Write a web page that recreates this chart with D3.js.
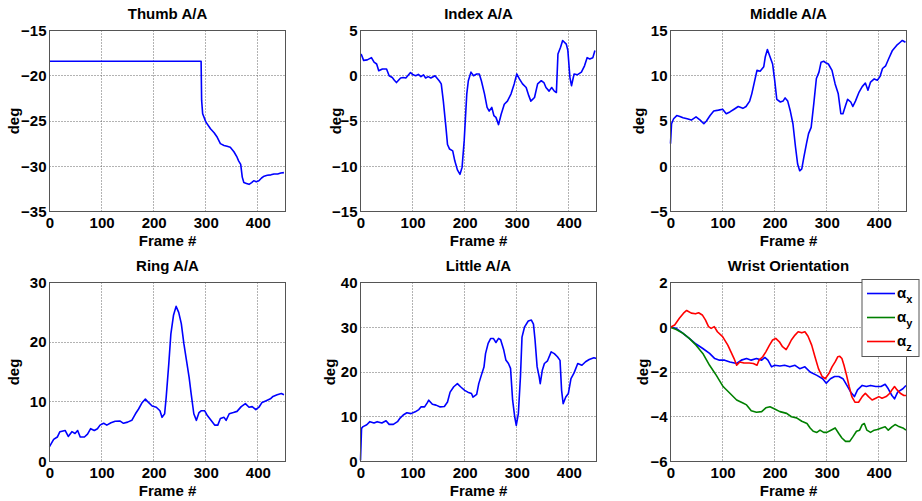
<!DOCTYPE html>
<html lang="en">
<head>
<meta charset="UTF-8">
<script src="https://cdn.jsdelivr.net/npm/d3@7"></script>
<title>Hand A/A</title>
<style>
  body { margin: 0; background: #fff; }
  text { font-family: "Liberation Sans", Arial, Helvetica, sans-serif; font-weight: bold; fill: #000; }
</style>
</head>
<body>
<svg></svg>
<script>
const width = 922;
const height = 501;

// ---- data ----
const titles = ['Thumb A/A', 'Index A/A', 'Middle A/A', 'Ring A/A', 'Little A/A', 'Wrist Orientation'];
const xTicks = [0, 100, 200, 300, 400];
const xMax = 453;
const yDomains = [[-35, -15], [-15, 5], [-5, 15], [0, 30], [0, 40], [-6, 2]];
const yTicks = [
  [-35, -30, -25, -20, -15],
  [-15, -10, -5, 0, 5],
  [-5, 0, 5, 10, 15],
  [0, 10, 20, 30],
  [0, 10, 20, 30, 40],
  [-6, -4, -2, 0, 2]
];

// [frame, deg]
const thumbAA = [[0,-18.4],[291,-18.4],[292,-22.7],[294,-24.2],[300,-25.1],[309,-25.85],[316,-26.3],[322,-26.8],[328,-27.5],[335,-27.7],[341,-27.8],[347,-27.9],[354,-28.4],[360,-29.0],[363,-29.4],[367,-29.8],[370,-31.2],[373,-31.8],[378,-31.9],[383,-32.0],[388,-31.8],[392,-31.6],[397,-31.7],[402,-31.6],[407,-31.3],[412,-31.1],[418,-31.0],[425,-30.95],[431,-30.85],[438,-30.85],[444,-30.75],[450,-30.7]];

const indexAA = [[0,2.4],[2,2.3],[6,1.7],[13,1.75],[21,2.0],[26,1.5],[31,1.3],[35,0.55],[42,0.75],[50,0.75],[55,0],[61,-0.2],[65,-0.5],[69,-0.75],[77,-0.25],[82,-0.2],[87,-0.25],[96,0.35],[101,0.1],[106,0],[111,0.15],[116,-0.1],[121,0.1],[125,-0.25],[130,-0.1],[135,-0.25],[143,0],[151,-0.55],[155,-0.9],[159,-2.8],[164,-5.7],[167,-7.6],[171,-8.1],[177,-8.3],[181,-9.4],[186,-10.4],[191,-10.9],[195,-10.1],[199,-7.2],[204,-2.0],[207,-0.55],[212,0.4],[217,0],[223,0.2],[228,0.2],[232,-0.55],[238,-2.0],[243,-3.5],[247,-3.9],[252,-3.5],[256,-4.4],[260,-4.6],[265,-5.4],[270,-4.25],[276,-3.15],[282,-2.8],[289,-2.0],[295,-0.9],[300,0.2],[305,-0.35],[311,-0.9],[318,-1.3],[323,-2.2],[327,-2.8],[334,-2.4],[340,-0.9],[347,-0.55],[352,-0.75],[356,-1.3],[362,-1.7],[367,-1.3],[372,-1.7],[376,-1.85],[379,2.4],[384,3.15],[388,3.9],[395,3.5],[398,2.8],[402,-0.2],[405,-1.1],[410,0.2],[416,0.1],[424,0.4],[430,1.1],[435,2.0],[440,1.85],[446,2.0],[450,2.8]];

const middleAA = [[0,2.5],[2,4.7],[6,5.25],[12,5.6],[18,5.5],[24,5.35],[32,5.25],[40,5.1],[49,5.45],[57,5.1],[64,4.7],[69,5.0],[76,5.6],[83,6.1],[92,6.2],[100,6.3],[107,5.8],[114,6.0],[122,6.3],[130,6.6],[139,6.4],[145,6.6],[152,7.2],[156,8.0],[161,9.3],[166,10.6],[172,10.5],[179,11.0],[182,12.1],[186,12.9],[191,12.1],[196,11.3],[200,9.5],[204,7.4],[211,7.1],[216,7.2],[220,7.55],[225,7.2],[230,6.1],[235,4.7],[240,2.1],[244,0.25],[248,-0.5],[252,-0.3],[256,1.0],[261,2.5],[265,3.6],[270,4.3],[275,6.9],[280,9.7],[285,10.4],[289,11.5],[294,11.6],[299,11.4],[303,11.3],[310,10.6],[316,9.1],[322,8.0],[327,5.8],[331,5.8],[336,6.7],[340,7.4],[346,7.1],[350,6.6],[355,7.2],[362,8.2],[368,8.8],[374,9.2],[379,8.4],[384,9.3],[391,9.65],[397,9.5],[402,9.9],[407,10.8],[413,11.1],[419,11.9],[426,12.8],[434,13.35],[441,13.7],[445,13.9],[451,13.7]];

const ringAA = [[0,2.5],[8,3.7],[15,4.1],[20,5.0],[30,5.2],[36,4.2],[43,5.0],[49,4.7],[54,5.2],[59,4.1],[67,4.1],[73,4.6],[79,5.5],[86,5.2],[92,5.5],[97,6.1],[104,6.4],[110,6.1],[118,6.5],[126,6.75],[135,6.8],[142,6.4],[150,6.6],[158,6.9],[165,8.0],[171,8.8],[178,9.9],[184,10.45],[190,9.9],[197,9.3],[205,9.1],[212,8.5],[216,7.4],[221,8.0],[224,10.8],[229,16.4],[233,21.4],[238,24.5],[243,26.0],[248,25.0],[253,23.1],[258,19.7],[263,16.9],[268,14.1],[272,11.3],[277,8.0],[282,6.9],[287,8.2],[291,8.5],[298,8.5],[303,7.7],[310,6.9],[317,6.1],[323,6.1],[328,7.2],[335,7.4],[339,6.9],[345,8.0],[353,8.2],[360,8.4],[368,9.2],[376,9.7],[383,9.1],[389,9.2],[396,8.7],[402,9.1],[408,9.9],[416,10.2],[424,10.5],[429,10.9],[437,11.2],[445,11.4],[450,11.2]];

const littleAA = [[0,0.3],[2,7.4],[5,7.8],[12,8.2],[18,8.9],[26,8.6],[32,8.9],[41,8.6],[49,9.1],[55,8.3],[63,8.3],[71,8.9],[76,9.7],[82,10.4],[89,10.9],[97,10.7],[105,11.1],[112,11.6],[116,12.2],[123,12.2],[128,13.1],[131,13.7],[138,12.8],[145,12.6],[153,12.2],[161,12.3],[167,13.3],[172,15.5],[179,16.7],[186,17.4],[192,16.7],[200,15.9],[206,15.5],[213,15.2],[216,14.4],[223,15.0],[227,17.4],[232,19.3],[237,21.1],[240,24.1],[245,26.4],[250,27.5],[255,27.5],[260,26.6],[265,27.5],[269,27.2],[275,24.9],[279,22.7],[284,21.9],[288,20.8],[292,13.7],[296,10.0],[299,8.1],[303,10.7],[307,18.9],[310,27.8],[315,30.1],[322,31.4],[328,31.6],[332,30.7],[335,27.2],[339,21.2],[343,18.9],[345,17.4],[349,20.4],[353,21.9],[359,22.5],[366,24.5],[372,24.1],[378,23.4],[383,22.6],[386,15.9],[389,12.9],[394,14.4],[399,15.2],[404,18.5],[410,19.8],[417,21.9],[425,21.5],[432,22.3],[439,22.8],[448,23.2],[453,23.0]];

const wristX = [[0,0],[11,-0.05],[24,-0.27],[36,-0.5],[49,-0.75],[62,-0.95],[75,-1.17],[85,-1.4],[94,-1.47],[104,-1.47],[114,-1.55],[127,-1.62],[136,-1.47],[146,-1.4],[155,-1.47],[165,-1.4],[175,-1.47],[181,-1.35],[187,-1.47],[194,-1.77],[200,-1.7],[210,-1.73],[219,-1.7],[229,-1.77],[239,-1.7],[248,-1.85],[258,-1.77],[268,-2.0],[281,-2.15],[292,-2.3],[299,-2.5],[307,-2.3],[315,-2.2],[323,-2.2],[331,-2.3],[340,-2.65],[346,-2.9],[353,-3.1],[359,-2.8],[368,-2.6],[376,-2.65],[384,-2.6],[394,-2.65],[404,-2.65],[412,-2.55],[418,-2.75],[425,-3.05],[430,-3.2],[436,-2.9],[446,-2.75],[452,-2.6]];

const wristY = [[0,0],[11,-0.1],[24,-0.27],[36,-0.5],[49,-0.8],[62,-1.17],[75,-1.7],[88,-2.15],[101,-2.65],[114,-2.95],[127,-3.25],[140,-3.4],[146,-3.47],[155,-3.73],[165,-3.8],[175,-3.77],[183,-3.6],[191,-3.55],[200,-3.65],[210,-3.77],[223,-3.85],[232,-4.0],[242,-4.05],[252,-4.2],[262,-4.3],[268,-4.5],[274,-4.65],[281,-4.7],[287,-4.6],[294,-4.7],[300,-4.7],[308,-4.6],[316,-4.5],[323,-4.75],[329,-4.95],[336,-5.1],[344,-5.1],[350,-4.9],[357,-4.65],[363,-4.6],[368,-4.35],[372,-4.3],[377,-4.6],[384,-4.7],[391,-4.6],[397,-4.57],[405,-4.5],[412,-4.45],[418,-4.6],[425,-4.45],[431,-4.35],[437,-4.42],[446,-4.5],[452,-4.6]];

const wristZ = [[0,0],[8,0.1],[17,0.4],[25,0.63],[31,0.75],[40,0.63],[48,0.6],[54,0.65],[61,0.55],[67,0.33],[73,0.03],[78,-0.05],[84,0.03],[90,-0.2],[100,-0.42],[110,-0.8],[116,-1.1],[122,-1.4],[127,-1.7],[133,-1.55],[141,-1.6],[151,-1.6],[159,-1.62],[166,-1.7],[170,-1.47],[177,-1.32],[183,-1.1],[190,-0.8],[196,-0.57],[202,-0.5],[209,-0.65],[215,-0.87],[222,-1.0],[227,-0.8],[232,-0.57],[239,-0.35],[245,-0.2],[252,-0.25],[258,-0.2],[264,-0.4],[271,-0.8],[277,-1.3],[284,-1.85],[291,-2.2],[297,-2.3],[304,-2.07],[310,-1.77],[316,-1.55],[321,-1.32],[325,-1.3],[329,-1.4],[333,-1.7],[338,-2.15],[343,-2.65],[348,-3.1],[354,-3.35],[361,-3.35],[368,-3.1],[374,-2.95],[380,-3.1],[387,-3.25],[394,-3.17],[400,-3.1],[406,-3.17],[414,-3.1],[421,-2.95],[425,-2.8],[430,-2.65],[435,-2.8],[441,-2.95],[448,-3.05],[452,-3.05]];

const panelSeries = [[thumbAA], [indexAA], [middleAA], [ringAA], [littleAA], [wristX, wristY, wristZ]];
const lineColors = ['#0000ff', '#008000', '#ff0000'];
const legendSubs = ['x', 'y', 'z'];

// ---- layout ----
const colLeft = [49.5, 360.5, 670.5];
const rowTop = [30.5, 282.5];
const rowHeight = [181, 179];
const plotWidth = 236;
const yLabelOffset = [36, 25, 32, 36, 31, 28];

const svg = d3.select('svg').attr('width', width).attr('height', height);

titles.forEach((title, i) => {
  const col = i % 3;
  const row = Math.floor(i / 3);
  const w = plotWidth;
  const h = rowHeight[row];
  const g = svg.append('g').attr('transform', `translate(${colLeft[col]}, ${rowTop[row]})`);

  const xScale = d3.scaleLinear().domain([0, xMax]).range([0, w]);
  const yScale = d3.scaleLinear().domain(yDomains[i]).range([h, 0]);

  // dotted grid
  g.append('g').selectAll('line').data(xTicks.filter(t => t > 0)).enter().append('line')
    .attr('x1', d => Math.round(xScale(d))).attr('x2', d => Math.round(xScale(d)))
    .attr('y1', 0).attr('y2', h)
    .attr('stroke', '#666').attr('stroke-width', 1).attr('stroke-dasharray', '1,2');
  g.append('g').selectAll('line').data(yTicks[i].slice(1, -1)).enter().append('line')
    .attr('x1', 0).attr('x2', w)
    .attr('y1', d => Math.round(yScale(d))).attr('y2', d => Math.round(yScale(d)))
    .attr('stroke', '#666').attr('stroke-width', 1).attr('stroke-dasharray', '1,2');

  // axes, labels only
  const xAxis = d3.axisBottom(xScale).tickValues(xTicks).tickSize(0).tickPadding(6);
  const yAxis = d3.axisLeft(yScale).tickValues(yTicks[i]).tickSize(0).tickPadding(3);
  const xg = g.append('g').attr('transform', `translate(0, ${h})`).call(xAxis);
  const yg = g.append('g').call(yAxis);
  [xg, yg].forEach(a => {
    a.select('.domain').remove();
    a.selectAll('line').remove();
    a.selectAll('text').style('font-size', '15px').attr('font-family', null).attr('fill', '#000');
  });

  // lines
  const line = d3.line().x(d => xScale(d[0])).y(d => yScale(d[1]));
  panelSeries[i].forEach((s, k) => {
    g.append('path').datum(s)
      .attr('d', line)
      .attr('fill', 'none')
      .attr('stroke', lineColors[k])
      .attr('stroke-width', 1.6)
      .attr('stroke-linejoin', 'round');
  });

  // box
  g.append('rect').attr('x', 0).attr('y', 0).attr('width', w).attr('height', h)
    .attr('fill', 'none').attr('stroke', '#555').attr('stroke-width', 1);

  // texts
  g.append('text').attr('x', w / 2).attr('y', -12).attr('text-anchor', 'middle')
    .style('font-size', '15px').text(title);
  g.append('text').attr('x', w / 2).attr('y', h + 34).attr('text-anchor', 'middle')
    .style('font-size', '15px').text('Frame #');
  g.append('text')
    .attr('transform', `translate(${-yLabelOffset[i]}, ${h / 2}) rotate(-90)`)
    .attr('text-anchor', 'middle').attr('dy', '0.35em')
    .style('font-size', '15px').text('deg');

  // legend on the wrist panel
  if (panelSeries[i].length > 1) {
    const lg = g.append('g').attr('transform', `translate(${862 - colLeft[col]}, ${279.5 - rowTop[row]})`);
    lg.append('rect').attr('width', 57).attr('height', 77)
      .attr('fill', '#fff').attr('stroke', '#555').attr('stroke-width', 1);
    legendSubs.forEach((sub, k) => {
      const yy = 14 + k * 24;
      lg.append('line').attr('x1', 5).attr('x2', 33).attr('y1', yy).attr('y2', yy)
        .attr('stroke', lineColors[k]).attr('stroke-width', 1.6);
      const t = lg.append('text').attr('x', 35).attr('y', yy + 4).style('font-size', '15px');
      t.append('tspan').text('α');
      t.append('tspan').attr('dy', 5).style('font-size', '11px').text(sub);
    });
  }
});
</script>
</body>
</html>
